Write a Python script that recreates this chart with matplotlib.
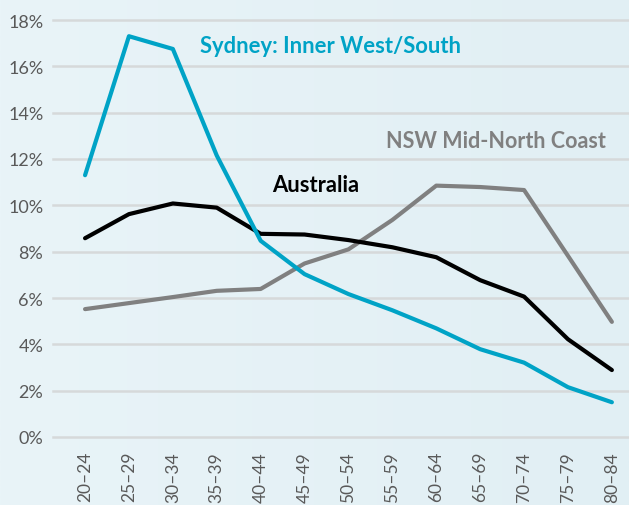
import matplotlib
matplotlib.use("Agg")
import matplotlib.pyplot as plt
import numpy as np

# age groups (x axis)
age_groups = ["20–24", "25–29", "30–34", "35–39", "40–44", "45–49", "50–54",
              "55–59", "60–64", "65–69", "70–74", "75–79", "80–84"]

# share of population aged 20-84, in %
sydney_inner_west = [11.3, 17.3, 16.75, 12.15, 8.47, 7.03, 6.17, 5.47, 4.69, 3.79, 3.21, 2.15, 1.5]
australia = [8.58, 9.62, 10.08, 9.9, 8.77, 8.74, 8.5, 8.19, 7.76, 6.77, 6.06, 4.22, 2.89]
nsw_mid_north = [5.52, 5.78, 6.04, 6.31, 6.39, 7.49, 8.1, 9.37, 10.85, 10.79, 10.66, 7.82, 4.97]

y_ticks = [0, 2, 4, 6, 8, 10, 12, 14, 16, 18]

CYAN = '#00a3c6'
GREY = '#808080'
TICK_GREY = '#595959'

plt.rcParams['font.family'] = ['Lato', 'DejaVu Sans']

fig = plt.figure(figsize=(6.29, 5.06), dpi=100)

# soft light-blue gradient background
bg = fig.add_axes([0, 0, 1, 1], zorder=-10)
grad = np.linspace(0, 1, 256).reshape(1, -1)
bg.imshow(grad, aspect='auto', extent=[0, 1, 0, 1],
          cmap=matplotlib.colors.LinearSegmentedColormap.from_list('bg', ['#e9f4f8', '#e1eff4']))
bg.axis('off')

ax = fig.add_axes([53 / 629, 68 / 506, 1 - 53 / 629, 417 / 506])
ax.patch.set_alpha(0)

x = np.arange(len(age_groups))
ax.plot(x, nsw_mid_north, color=GREY, lw=3, solid_capstyle='round', zorder=3)
ax.plot(x, australia, color='black', lw=3, solid_capstyle='round', zorder=4)
ax.plot(x, sydney_inner_west, color=CYAN, lw=3, solid_capstyle='round', zorder=5)

# series labels
ax.text(2.62, 16.92, "Sydney: Inner West/South", color=CYAN, fontsize=15.8,
        fontweight='bold', va='center', ha='left')
ax.text(6.85, 12.82, "NSW Mid-North Coast", color=GREY, fontsize=15.5,
        fontweight='bold', va='center', ha='left')
ax.text(4.26, 10.92, "Australia", color='black', fontsize=15.8,
        fontweight='bold', va='center', ha='left')

ax.set_xlim(-0.73, 12.39)
ax.set_ylim(0, 18)
ax.set_xticks(x)
ax.set_xticklabels(age_groups, rotation=90, color=TICK_GREY, fontsize=12.5)
ax.set_yticks(y_ticks)
ax.set_yticklabels([f"{t}%" for t in y_ticks], color=TICK_GREY, fontsize=13)
ax.tick_params(axis='both', length=0)
ax.tick_params(axis='y', pad=7)
ax.tick_params(axis='x', pad=10)

for s in ax.spines.values():
    s.set_visible(False)
ax.grid(axis='y', color='#d6d9da', lw=1.8, zorder=0)
ax.set_axisbelow(True)
for gl in ax.get_ygridlines():
    gl.set_clip_on(False)

fig.savefig("out.png", dpi=100)
